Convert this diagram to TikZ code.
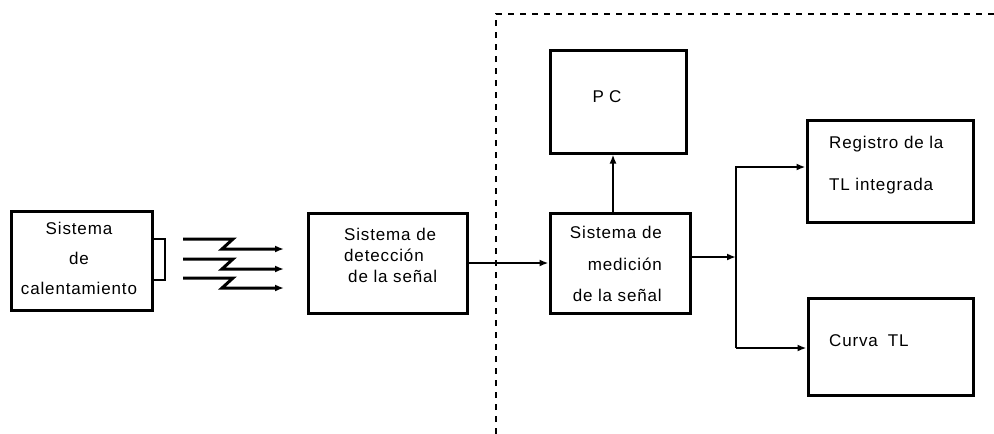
\documentclass[tikz,border=0pt]{standalone}
\usepackage{fontspec}
\setmainfont{Liberation Sans}[LetterSpace=5]
\usetikzlibrary{arrows.meta}
\begin{document}
\begin{tikzpicture}[x=1pt,y=-1pt,
  box/.style={draw,line width=3pt,inner sep=0pt},
  txt/.style={font=\fontsize{17}{21}\selectfont,inner sep=0pt},
  conn/.style={line width=2.4pt,-{Latex[length=9pt,width=7pt]}},
  zig/.style={line width=3pt,line join=miter,-{Latex[length=9pt,width=7pt]}},
  frame/.style={line width=2.2pt,dash pattern=on 6pt off 6pt}]
\useasboundingbox (0,0) rectangle (994,434);
% boxes
\node[box,minimum width=141pt,minimum height=99pt] (heat) at (81.5,260.5) {};
\node[box,minimum width=159pt,minimum height=100pt] (det) at (387.5,263) {};
\node[box,minimum width=140pt,minimum height=100pt] (med) at (620,263) {};
\node[box,minimum width=136pt,minimum height=103pt] (pc) at (618,101.5) {};
\node[box,minimum width=166pt,minimum height=102pt] (reg) at (890,171) {};
\node[box,minimum width=165pt,minimum height=97pt] (cur) at (890.5,346.5) {};
% tab on heater
\draw[line width=2.6pt] (152,239) -- (165,239) -- (165,280) -- (152,280);
% texts
\node[txt,align=center,font=\fontsize{17}{30}\selectfont] (theat) at (79,258) {Sistema\\de\\calentamiento};
\node[txt,align=left,anchor=west] (tdet) at (344,255) {Sistema de\\detección\\\hspace{4pt}de la señal};
\node[txt,align=right,anchor=east,font=\fontsize{17}{31.5}\selectfont] (tmed) at (662,264) {Sistema de\\medición\\de la señal};
\node[txt] (tpc) at (607,97) {P\hspace{5pt}C};
\node[txt,align=left,anchor=west,font=\fontsize{17}{42}\selectfont] (treg) at (829,165) {Registro de la\\TL integrada};
\node[txt,anchor=west] (tcur) at (829,341) {Curva\hspace{10pt}TL};
% zigzag arrows
\foreach \i/\y in {1/239,2/259,3/278}{
  \coordinate (z\i) at (183,\y);
  \draw[zig] (z\i) -- ++(50,0) -- ++(-11,10) -- ++(62,0);
}
% dashed frame
\coordinate (fb) at (496,434);
\coordinate (fc) at (496,14);
\coordinate (fr) at (994,14);
\draw[frame] (fb) -- (fc) -- (fr);
% connectors
\draw[conn] (det.east) -- (med.west);
\draw[conn] ([xshift=-7pt]med.north) -- ([xshift=-7pt]med.north |- pc.south);
\coordinate (j) at (736,257);
\coordinate (jt) at (736,167);
\coordinate (jb) at (736,348);
\draw[conn] ([yshift=6pt]med.east) -- (j);
\draw[conn] (jb) -- (jt) -- (jt -| reg.west);
\draw[conn] (jb) -- (jb -| cur.west);
\end{tikzpicture}
\end{document}
